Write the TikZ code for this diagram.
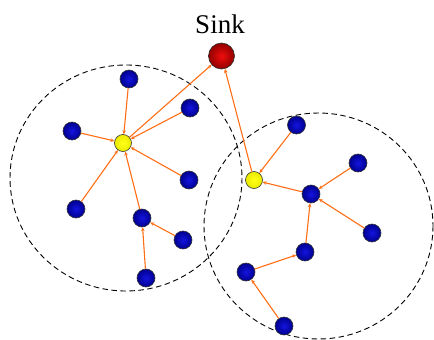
\documentclass[tikz,border=0pt]{standalone}
\usepackage{fontspec}
\setmainfont{Liberation Serif}
\usetikzlibrary{arrows.meta}
\definecolor{edgeor}{RGB}{255,110,20}
\definecolor{ballblue}{RGB}{0,0,220}
\definecolor{ballred}{RGB}{240,0,0}
\tikzset{
  blue node/.style={circle,draw=black!80,line width=0.6pt,minimum size=18pt,inner sep=0pt,shading=radial,inner color=ballblue!92!white,outer color=ballblue!65!black},
  yel node/.style={circle,draw=black!80,line width=0.6pt,minimum size=17pt,inner sep=0pt,shading=radial,inner color=yellow!90!white,outer color=yellow!92!black},
  sink node/.style={circle,draw=black!80,line width=0.6pt,minimum size=26pt,inner sep=0pt,shading=radial,inner color=ballred!95!white,outer color=ballred!60!black},
  link/.style={draw=edgeor,line width=1.1pt,-{Stealth[length=4pt,width=3.5pt]}},
  region/.style={draw=black,line width=0.9pt,dash pattern=on 5.5pt off 3.5pt}
}
\begin{document}
\begin{tikzpicture}[x=1pt,y=-1pt]
\useasboundingbox (0,0) rectangle (434,340);
\draw[region] (126,178) ellipse [x radius=116,y radius=113];
\draw[region] (318.5,226) ellipse [x radius=114.5,y radius=113];
\node[font=\fontsize{27}{30}\selectfont] (lbl) at (220,24) {Sink};
\node[sink node] (sink) at (221.5,56) {};
\node[yel node] (c1) at (123,143) {};
\node[yel node] (c2) at (254,180) {};
\node[blue node] (a1) at (129,79) {};
\node[blue node] (a2) at (190,108) {};
\node[blue node] (a3) at (72,131) {};
\node[blue node] (a4) at (189,180) {};
\node[blue node] (a5) at (76,209) {};
\node[blue node] (a6) at (142,218) {};
\node[blue node] (a7) at (183,240) {};
\node[blue node] (a8) at (146,278) {};
\node[blue node] (b1) at (296.5,125) {};
\node[blue node] (b2) at (358,163) {};
\node[blue node] (b3) at (311,194) {};
\node[blue node] (b4) at (372,233) {};
\node[blue node] (b5) at (305,252) {};
\node[blue node] (b6) at (246,272) {};
\node[blue node] (b7) at (284,326) {};
\draw[link] (c1) -- (sink);
\draw[link] (c2) -- (sink);
\foreach \s in {a1,a2,a3,a4,a5,a6} \draw[link] (\s) -- (c1);
\draw[link] (a7) -- (a6);
\draw[link] (a8) -- (a6);
\draw[link] (b1) -- (c2);
\draw[link] (b3) -- (c2);
\draw[link] (b2) -- (b3);
\draw[link] (b4) -- (b3);
\draw[link] (b5) -- (b3);
\draw[link] (b6) -- (b5);
\draw[link] (b7) -- (b6);
\end{tikzpicture}
\end{document}
